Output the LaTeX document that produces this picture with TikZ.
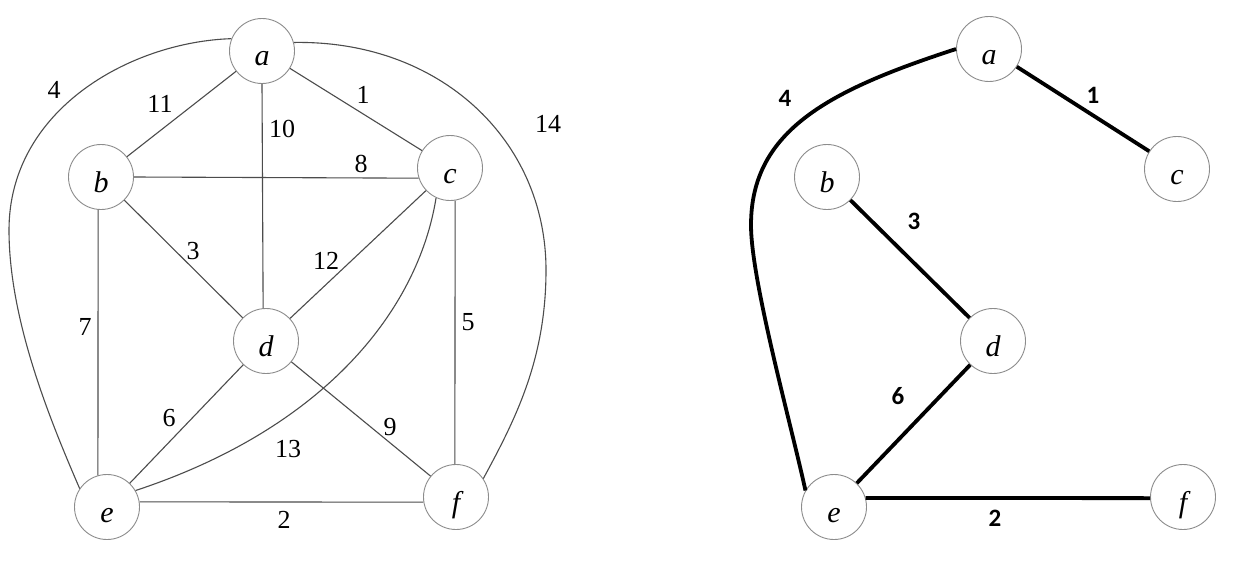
\documentclass[tikz,border=0pt]{standalone}
\usepackage{fontspec}
\setmainfont{Liberation Serif}
\newfontfamily\lblsans{Carlito}
\begin{document}
\begin{tikzpicture}[x=1pt,y=-1pt,
  vtx/.style={circle, draw=black!45, line width=0.9pt, minimum size=65pt, inner sep=0pt,
    text height=30pt, text depth=0pt, font=\fontsize{30}{32}\selectfont\itshape},
  edg/.style={draw=black!70, line width=1.1pt},
  wt/.style={font=\fontsize{26}{28}\selectfont, inner sep=0pt},
  tedg/.style={draw=black, line width=3.8pt},
  twt/.style={font=\lblsans\bfseries\fontsize{25}{27}\selectfont, inner sep=0pt}]
\useasboundingbox (0,0) rectangle (1244,586);
\fill[white] (0,0) rectangle (1244,586);

% ---------- left graph ----------
\node[vtx] (a) at (262,51) {a};
\node[vtx] (b) at (101,177) {b};
\node[vtx] (c) at (450,168) {c};
\node[vtx] (d) at (266,341) {d};
\node[vtx] (e) at (107,507) {e};
\node[vtx] (f) at (456,497) {f};

\draw[edg] (a) -- (b);
\draw[edg] (a) -- (c);
\draw[edg] (a.south) -- (d.95);
\draw[edg] (b.east) -- (c.198);
\draw[edg] (b) -- (d);
\draw[edg] (c) -- (d);
\draw[edg] (c.279) -- (f.92);
\draw[edg] (b.265) -- (e.106);
\draw[edg] (d) -- (e);
\draw[edg] (d) -- (f);
\draw[edg] (e.9) -- (f.189);
\draw[edg] (c.245) .. controls (418,310) and (325,428) .. (e.30);
\draw[edg] (a.158) .. controls (130,42) and (9,110) .. (9,230)
                   .. controls (9,320) and (50,420) .. (e.146);
\draw[edg] (a.15) .. controls (440,40) and (546,140) .. (546,270)
                  .. controls (546,360) and (515,420) .. (f.34);

\node[wt] (w4)  at (54,90)   {4};
\node[wt] (w11) at (160,104) {11};
\node[wt] (w1)  at (363,95)  {1};
\node[wt] (w10) at (282,129) {10};
\node[wt] (w8)  at (361,164) {8};
\node[wt] (w14) at (548,124) {14};
\node[wt] (w3)  at (193,251) {3};
\node[wt] (w12) at (326,261) {12};
\node[wt] (w7)  at (85,327)  {7};
\node[wt] (w5)  at (468,322) {5};
\node[wt] (w6)  at (169,418) {6};
\node[wt] (w9)  at (390,427) {9};
\node[wt] (w13) at (288,449) {13};
\node[wt] (w2)  at (284,520) {2};

% ---------- right graph (spanning tree) ----------
\node[vtx] (ra) at (989,49)  {a};
\node[vtx] (rb) at (827,177) {b};
\node[vtx] (rc) at (1177,169) {c};
\node[vtx] (rd) at (993,341) {d};
\node[vtx] (re) at (834,507) {e};
\node[vtx] (rf) at (1183,497) {f};

\draw[tedg] (ra) -- (rc);
\draw[tedg] (rb) -- (rd);
\draw[tedg] (rd) -- (re);
\draw[tedg] (re.16) -- (rf.182);
\draw[tedg] (ra.west) .. controls (830,90) and (751,130) .. (751,225)
                      .. controls (751,280) and (790,420) .. (re.150);

\node[twt] (t4) at (785,98)   {4};
\node[twt] (t1) at (1093,95)  {1};
\node[twt] (t3) at (914,221)  {3};
\node[twt] (t6) at (898,396)  {6};
\node[twt] (t2) at (995,518)  {2};
\end{tikzpicture}
\end{document}
